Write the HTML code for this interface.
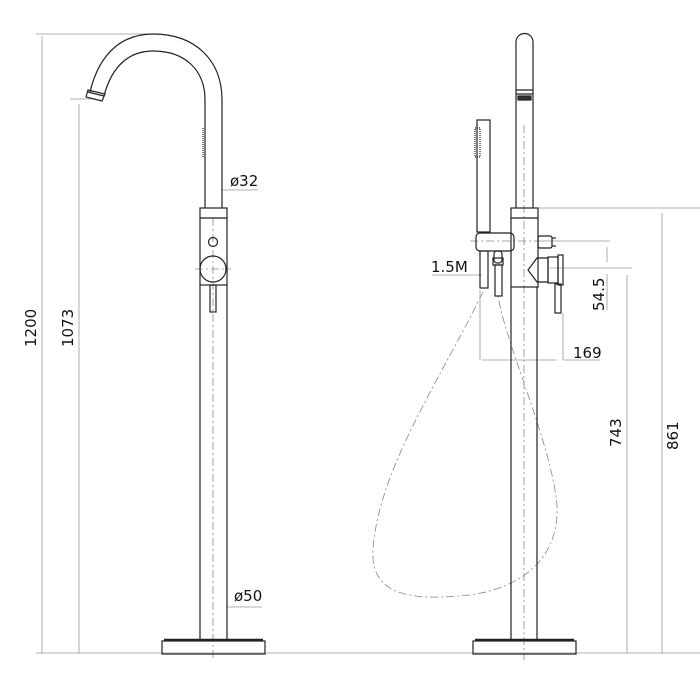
<!DOCTYPE html>
<html><head><style>
html,body{margin:0;padding:0;background:#fff;width:700px;height:700px;overflow:hidden}
text{font-family:"DejaVu Sans","Liberation Sans",sans-serif;font-size:15px;fill:#111}
</style></head><body>
<svg width="700" height="700" viewBox="0 0 700 700" xmlns="http://www.w3.org/2000/svg">
<g fill="none" stroke="#999" stroke-width="0.8">
<line x1="36" y1="34" x2="150" y2="34"/>
<line x1="42" y1="36" x2="42" y2="653"/>
<line x1="70" y1="99" x2="92" y2="99"/>
<line x1="79" y1="104" x2="79" y2="653"/>
<line x1="36" y1="653" x2="700" y2="653"/>
<line x1="222" y1="190" x2="258" y2="190"/>
<line x1="227" y1="607" x2="262" y2="607"/>
<line x1="533" y1="208" x2="700" y2="208"/>
<line x1="662" y1="213" x2="662" y2="653"/>
<line x1="540" y1="241" x2="610" y2="241"/>
<line x1="550" y1="268" x2="632" y2="268"/>
<line x1="607" y1="247" x2="607" y2="262"/>
<line x1="607" y1="274" x2="607" y2="310"/>
<line x1="627" y1="275" x2="627" y2="653"/>
<line x1="480" y1="290" x2="480" y2="360"/>
<line x1="563" y1="313" x2="563" y2="360"/>
<line x1="563" y1="360" x2="600" y2="360"/>
<line x1="482" y1="360" x2="557" y2="360"/>
<line x1="432" y1="275" x2="482" y2="275"/>
</g>
<g fill="none" stroke="#888" stroke-width="0.8" stroke-dasharray="8 3 2 3">
<line x1="213" y1="218" x2="213" y2="660"/>
<line x1="524" y1="125" x2="524" y2="660"/>
<line x1="470" y1="241" x2="540" y2="241"/>
<line x1="195" y1="269" x2="231" y2="269"/>
<path d="M483,292 C440,380 378,470 373,550 C370,600 420,600 470,595 C540,585 565,540 555,490 C545,430 505,340 498,296"/>
</g>
<g fill="none" stroke="#222" stroke-width="1.2">
<path d="M90,92 C100,50 125,34 153,34 C195,34 222,60 222,100 L222,208"/>
<path d="M104,96 C112,65 130,51 153,51 C185,51 205,70 205,100 L205,208"/>
<path d="M88,90 L105,94 L102,101 L86,97 Z"/>
<line x1="88" y1="92" x2="104" y2="96"/>
<line x1="203" y1="128" x2="203" y2="157" stroke-dasharray="1 1"/>
<rect x="200" y="208" width="27" height="77"/>
<line x1="200" y1="218" x2="227" y2="218"/>
<circle cx="213" cy="242" r="4.5"/>
<circle cx="213" cy="269" r="13"/>
<rect x="210" y="285" width="6" height="27"/>
<line x1="200" y1="285" x2="200" y2="640"/>
<line x1="227" y1="285" x2="227" y2="640"/>
<rect x="162" y="641" width="103" height="13"/>
<line x1="164" y1="640" x2="263" y2="640" stroke-width="2.5"/>
<path d="M516,208 L516,42 A8.5,8.5 0 0 1 533,42 L533,208"/>
<line x1="516" y1="90" x2="533" y2="90"/>
<line x1="516" y1="94" x2="533" y2="94"/>
<rect x="518" y="96" width="13" height="4" fill="#333"/>
<rect x="511" y="208" width="27" height="79"/>
<line x1="511" y1="218" x2="538" y2="218"/>
<line x1="511" y1="287" x2="511" y2="640"/>
<line x1="537" y1="287" x2="537" y2="640"/>
<rect x="473" y="641" width="103" height="13"/>
<line x1="475" y1="640" x2="574" y2="640" stroke-width="2.5"/>
<rect x="477" y="120" width="13" height="112"/>
<rect x="475" y="128" width="5" height="29" stroke-dasharray="1 1"/>
<rect x="476" y="233" width="38" height="18" rx="4"/>
<rect x="480" y="251" width="8" height="37"/>
<rect x="494" y="251" width="8" height="12" rx="3"/>
<rect x="493" y="258" width="10" height="7"/>
<rect x="495" y="265" width="7" height="31"/>
<rect x="538" y="236" width="14" height="12" rx="2"/>
<line x1="552" y1="238" x2="556" y2="238"/><line x1="552" y1="246" x2="556" y2="246"/>
<path d="M537,258 L548,258 L548,282 L537,282 L528,270 Z"/>
<rect x="548" y="257" width="10" height="26"/>
<rect x="558" y="255" width="5" height="30"/>
<rect x="555" y="284" width="6" height="29"/>
</g>
<text x="0" y="0" transform="translate(36,347) rotate(-90)">1200</text>
<text x="0" y="0" transform="translate(73,347) rotate(-90)">1073</text>
<text x="230" y="186">ø32</text>
<text x="234" y="601">ø50</text>
<text x="431" y="272">1.5M</text>
<text x="0" y="0" transform="translate(604,311) rotate(-90)">54.5</text>
<text x="573" y="358">169</text>
<text x="0" y="0" transform="translate(621,447) rotate(-90)">743</text>
<text x="0" y="0" transform="translate(678,450) rotate(-90)">861</text>
</svg>
</body></html>
